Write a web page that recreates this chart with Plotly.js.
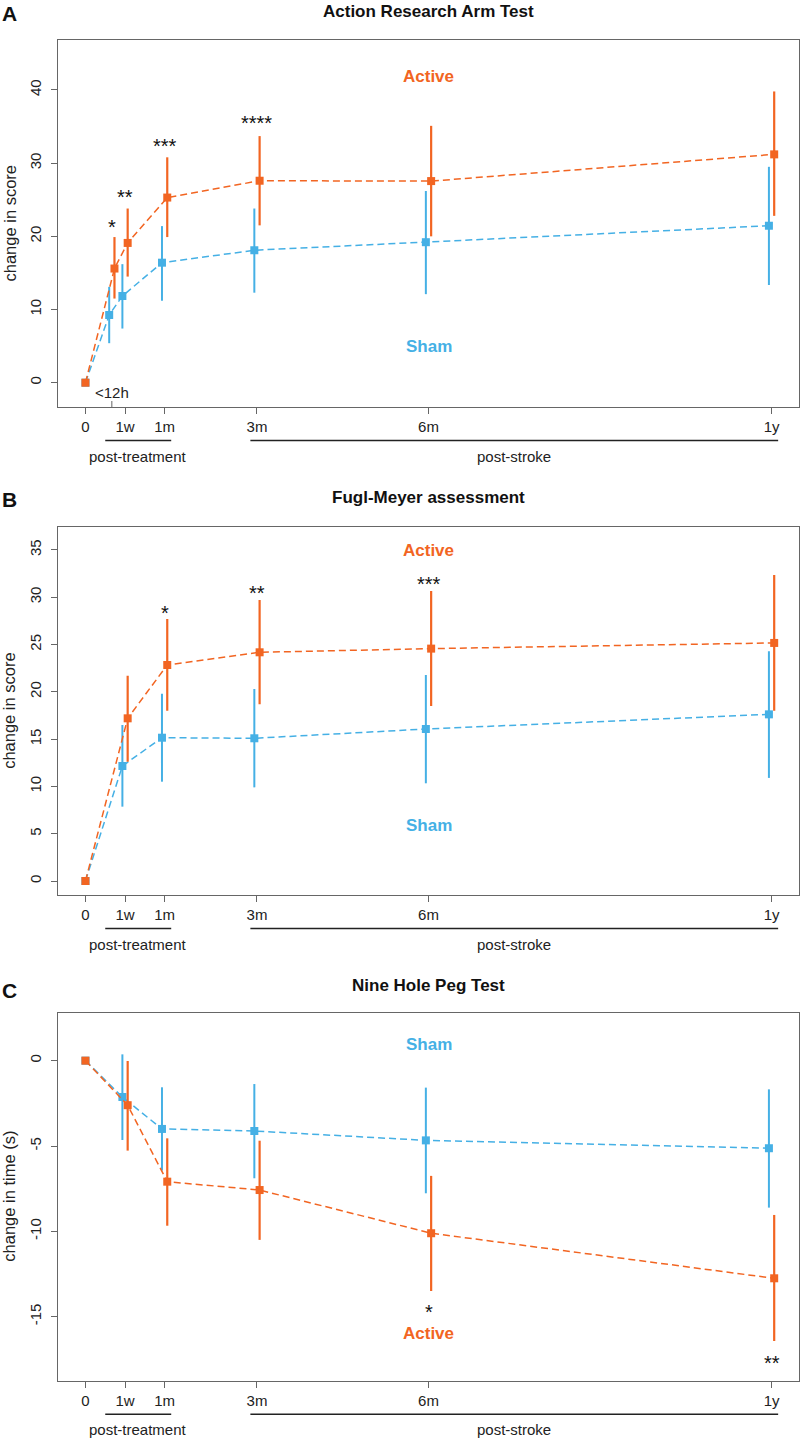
<!DOCTYPE html>
<html>
<head>
<meta charset="utf-8">
<script src="https://cdn.plot.ly/plotly-3.0.1.min.js"></script>
<style>html,body{margin:0;padding:0;background:#fff;}#chart{width:800px;height:1438px;}</style>
</head>
<body>
<div id="chart"></div>
<script>
// ---------- DATA ----------
const tickLabels = ['0', '1w', '1m', '3m', '6m', '1y'];
const tickPos = [0, 3, 6, 13, 26, 52];

// Panel A: Action Research Arm Test (includes <12h point)
const armPos = [0, 2, 3, 6, 13, 26, 52];
const armSham = [0, 9.25, 11.85, 16.4, 18.1, 19.2, 21.45];
const armShamHi = [0, 13.1, 16.2, 21.4, 23.8, 26.2, 29.5];
const armShamLo = [0, 5.4, 7.4, 11.2, 12.3, 12.1, 13.35];
const armActive = [0, 15.6, 19.1, 25.3, 27.6, 27.55, 31.2];
const armActiveHi = [0, 19.9, 23.8, 30.8, 33.7, 35.1, 39.8];
const armActiveLo = [0, 11.5, 14.5, 19.9, 21.5, 20.0, 22.8];
const armStarPos = [2, 3, 6, 13];
const armStars = ['*', '**', '***', '****'];
const armStarY = [21.8, 25.9, 32.9, 36.0];
const armYTicks = [0, 10, 20, 30, 40];
const armYTickText = ['0', '10', '20', '30', '40'];

// Panel B: Fugl-Meyer assessment
const fmSham = [0, 12.16, 15.15, 15.09, 16.07, 17.62];
const fmShamHi = [0, 16.5, 19.8, 20.3, 21.78, 24.3];
const fmShamLo = [0, 7.86, 10.5, 9.9, 10.33, 10.9];
const fmActive = [0, 17.2, 22.84, 24.18, 24.57, 25.17];
const fmActiveHi = [0, 21.7, 27.7, 29.7, 30.66, 32.36];
const fmActiveLo = [0, 12.6, 18.0, 18.7, 18.5, 18.0];
const fmStarPos = [6, 13, 26];
const fmStars = ['*', '**', '***'];
const fmStarY = [28.8, 30.9, 31.8];
const fmYTicks = [0, 5, 10, 15, 20, 25, 30, 35];
const fmYTickText = ['0', '5', '10', '15', '20', '25', '30', '35'];

// Panel C: Nine Hole Peg Test
const nhSham = [0, -2.13, -4.0, -4.12, -4.67, -5.13];
const nhShamHi = [0, 0.37, -1.56, -1.37, -1.58, -1.68];
const nhShamLo = [0, -4.65, -6.44, -6.89, -7.77, -8.61];
const nhActive = [0, -2.61, -7.09, -7.58, -10.11, -12.75];
const nhActiveHi = [0, -0.02, -4.55, -4.69, -6.75, -9.04];
const nhActiveLo = [0, -5.27, -9.67, -10.5, -13.49, -16.42];
const nhStarPos = [26, 52];
const nhStars = ['*', '**'];
const nhStarY = [-14.5, -17.5];
const nhYTicks = [-15, -10, -5, 0];
const nhYTickText = ['-15', '-10', '-5', '0'];

// Group label positions (x, y) per panel
const groupLabelX = 26;
const armLabelY = {Active: 41.9, Sham: 4.9};
const fmLabelY = {Active: 34.9, Sham: 5.92};
const nhLabelY = {Active: -16.0, Sham: 0.96};

const periodNames = ['post-treatment', 'post-stroke'];
const periodSpans = [[1.5, 6.5], [12.5, 52.5]];
const earlyLabel = '<12h';
const earlyPos = 2;

const titles = ['Action Research Arm Test', 'Fugl-Meyer assessment', 'Nine Hole Peg Test'];
const yTitles = ['change in score', 'change in score', 'change in time (s)'];
const letters = ['A', 'B', 'C'];

// ---------- STYLE ----------
const ORANGE = '#F26522';
const BLUE = '#45B0E5';
const H = 1438;
const FONT = 'Arial, "Liberation Sans", Helvetica, sans-serif';
const DODGE = 0.2;
const py = p => 1 - p / H;

const panels = [
  {pos: armPos, sham: [armSham, armShamHi, armShamLo], act: [armActive, armActiveHi, armActiveLo],
   stars: [armStarPos, armStars, armStarY], lab: armLabelY, range: [-3.32, 46.83],
   yt: [armYTicks, armYTickText], dom: [py(407), py(40)], titleY: 12, letterY: 13},
  {pos: tickPos, sham: [fmSham, fmShamHi, fmShamLo], act: [fmActive, fmActiveHi, fmActiveLo],
   stars: [fmStarPos, fmStars, fmStarY], lab: fmLabelY, range: [-1.48, 37.46],
   yt: [fmYTicks, fmYTickText], dom: [py(895), py(526.7)], titleY: 497, letterY: 499},
  {pos: tickPos, sham: [nhSham, nhShamHi, nhShamLo], act: [nhActive, nhActiveHi, nhActiveLo],
   stars: [nhStarPos, nhStars, nhStarY], lab: nhLabelY, range: [-18.75, 2.81],
   yt: [nhYTicks, nhYTickText], dom: [py(1380.7), py(1012.7)], titleY: 985, letterY: 990}
];

const xDom = [58 / 800, 799 / 800];
const traces = [];
const annotations = [];
const shapes = [];
const layout = {
  width: 800, height: 1438, autosize: false,
  margin: {l: 0, r: 0, t: 0, b: 0},
  paper_bgcolor: '#fff', plot_bgcolor: '#fff',
  showlegend: false, font: {family: FONT, color: '#222', size: 15},
  hovermode: false
};

panels.forEach((p, i) => {
  const sfx = i === 0 ? '' : String(i + 1);
  const xa = 'x' + sfx, ya = 'y' + sfx;
  const mk = (vals, color, dir, ew) => {
    const [v, hi, lo] = vals;
    return {
      type: 'scatter', mode: 'lines+markers', xaxis: xa, yaxis: ya,
      x: p.pos.map(t => t === 0 ? t : t + dir * DODGE),
      y: v,
      line: {color: color, width: 1.5, dash: '7px,4px'},
      marker: {symbol: 'square', size: 8, color: color},
      error_y: {type: 'data', symmetric: false,
        array: hi.map((h, k) => h - v[k]), arrayminus: lo.map((l, k) => v[k] - l),
        color: color, thickness: ew, width: 0},
      cliponaxis: false
    };
  };
  traces.push(mk(p.sham, BLUE, -1, 2));
  traces.push(mk(p.act, ORANGE, 1, 2.2));

  layout['xaxis' + sfx] = {
    domain: xDom, anchor: ya, range: [-2.08, 54.08],
    tickmode: 'array', tickvals: tickPos, ticktext: tickLabels,
    ticks: 'outside', ticklen: 6, tickwidth: 1, tickcolor: '#666',
    showline: true, linecolor: '#666', linewidth: 1, mirror: true,
    showgrid: false, zeroline: false,
    tickfont: {size: 15, color: '#222', family: FONT}
  };
  layout['yaxis' + sfx] = {
    domain: p.dom, anchor: xa, range: p.range,
    tickmode: 'array', tickvals: p.yt[0], ticktext: p.yt[1],
    ticks: 'outside', ticklen: 6, tickwidth: 1, tickcolor: '#666',
    showline: true, linecolor: '#666', linewidth: 1, mirror: true,
    showgrid: false, zeroline: false, tickangle: -90, ticklabelstandoff: 4,
    tickfont: {size: 15, color: '#222', family: FONT}
  };

  // stars
  p.stars[0].forEach((sx, k) => {
    annotations.push({xref: xa, yref: ya, x: sx, y: p.stars[2][k], text: p.stars[1][k],
      showarrow: false, yanchor: 'middle', yshift: -4, font: {size: 20, color: '#111', family: FONT}});
  });
  // group labels
  annotations.push({xref: xa, yref: ya, x: groupLabelX, y: p.lab.Active, text: '<b>Active</b>',
    showarrow: false, yanchor: 'middle', font: {size: 17, color: ORANGE, family: FONT}});
  annotations.push({xref: xa, yref: ya, x: groupLabelX, y: p.lab.Sham, text: '<b>Sham</b>',
    showarrow: false, yanchor: 'middle', font: {size: 17, color: BLUE, family: FONT}});
  // titles
  annotations.push({xref: 'paper', yref: 'paper', x: (xDom[0] + xDom[1]) / 2, y: py(p.titleY),
    text: '<b>' + titles[i] + '</b>', showarrow: false, yanchor: 'middle',
    font: {size: 17, color: '#111', family: FONT}});
  annotations.push({xref: 'paper', yref: 'paper', x: 0, y: py(p.letterY), xanchor: 'left',
    text: '<b>' + letters[i] + '</b>', showarrow: false, yanchor: 'middle',
    font: {size: 21, color: '#111', family: FONT}});
  // y title
  annotations.push({xref: 'paper', yref: 'paper', x: 9 / 800, y: (p.dom[0] + p.dom[1]) / 2,
    text: yTitles[i], textangle: -90, showarrow: false, xanchor: 'center', yanchor: 'middle',
    font: {size: 16.5, color: '#222', family: FONT}});
  // period lines + labels
  periodSpans.forEach((s, k) => {
    shapes.push({type: 'line', xref: xa, yref: ya + ' domain', ysizemode: 'pixel', yanchor: 0,
      x0: s[0], x1: s[1], y0: -33.5, y1: -33.5, line: {color: '#222', width: 1.6}});
    annotations.push({xref: xa, yref: ya + ' domain', x: (s[0] + s[1]) / 2, y: 0, yshift: -49,
      text: periodNames[k], showarrow: false, yanchor: 'middle',
      font: {size: 15, color: '#222', family: FONT}});
  });
});

// <12h marker in panel A (inward tick + label)
shapes.push({type: 'line', xref: 'x', yref: 'y domain', ysizemode: 'pixel', yanchor: 0,
  x0: earlyPos, x1: earlyPos, y0: 0, y1: 6, line: {color: '#666', width: 1}});
annotations.push({xref: 'x', yref: 'y', x: earlyPos, y: -1.4, text: earlyLabel, showarrow: false,
  yanchor: 'middle', font: {size: 15, color: '#222', family: FONT}});

layout.annotations = annotations;
layout.shapes = shapes;

Plotly.newPlot('chart', traces, layout, {staticPlot: true, displayModeBar: false});
</script>
</body>
</html>
